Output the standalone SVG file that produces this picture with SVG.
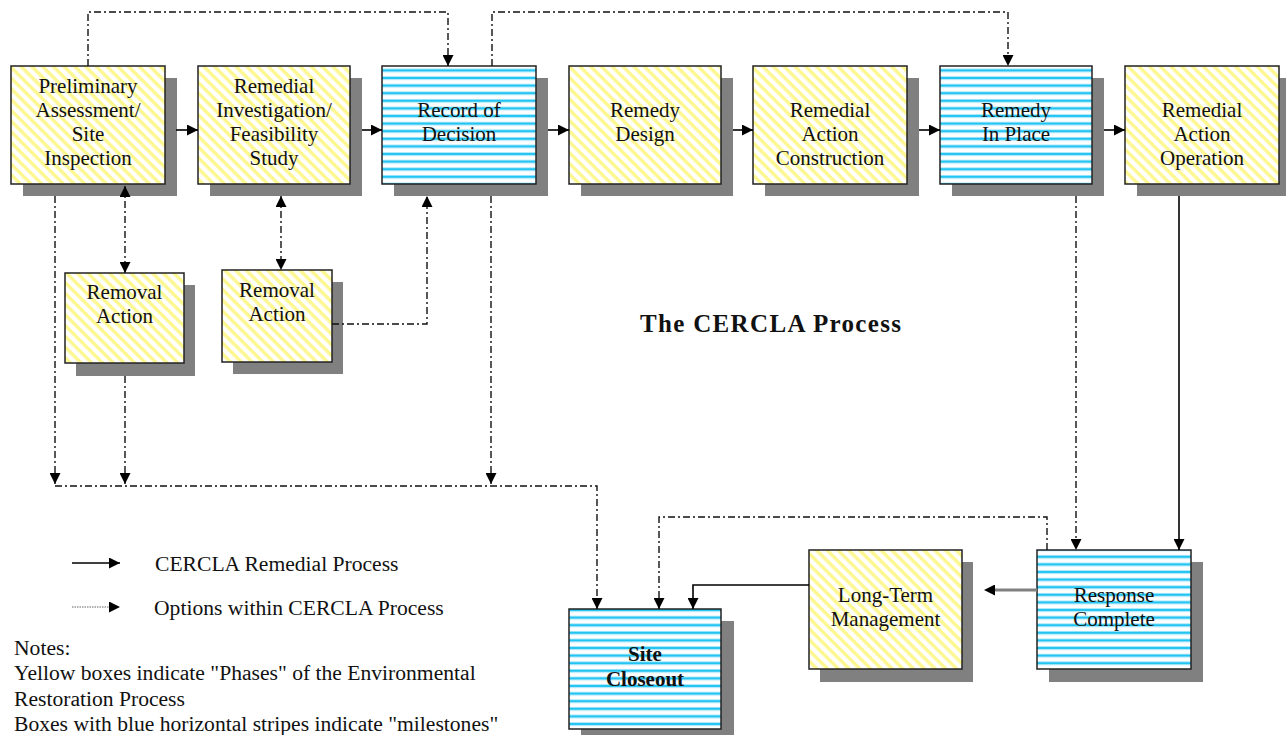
<svg xmlns="http://www.w3.org/2000/svg" width="1286" height="735" viewBox="0 0 1286 735">
<defs>
  <pattern id="yel" patternUnits="userSpaceOnUse" width="7.6" height="7.6" patternTransform="rotate(45)">
    <rect x="0" y="0" width="7.6" height="7.6" fill="#ffffff"/>
    <rect x="0" y="0" width="7.6" height="3.4" fill="#fdf78f"/>
  </pattern>
  <pattern id="blu" patternUnits="userSpaceOnUse" x="0" y="68.5" width="10" height="7.6">
    <rect x="0" y="0" width="10" height="7.6" fill="#ffffff"/>
    <rect x="0" y="0" width="10" height="0.9" fill="#a8e8fb"/>
    <rect x="0" y="0.9" width="10" height="2.2" fill="#24c4f2"/>
    <rect x="0" y="3.1" width="10" height="0.9" fill="#a8e8fb"/>
  </pattern>
  <marker id="ah" viewBox="0 0 10 10" refX="10" refY="5" markerWidth="11" markerHeight="11" markerUnits="userSpaceOnUse" orient="auto-start-reverse">
    <path d="M0,0 L10,5 L0,10 Z" fill="#000"/>
  </marker>
</defs>
<style>
  .shadow { fill: #808080; }
  .ybox { fill: url(#yel); stroke: #222; stroke-width: 1.5; }
  .bbox { fill: url(#blu); stroke: #222; stroke-width: 1.5; }
  .lbl { font-family: "Liberation Serif", "Times New Roman", serif; font-size: 21px; fill: #111; text-anchor: middle; }
  .bold { font-weight: bold; }
  .txt { font-family: "Liberation Serif", "Times New Roman", serif; font-size: 21.6px; fill: #111; }
  .solid { fill: none; stroke: #000; stroke-width: 1.6; }
  .dd { fill: none; stroke: #111; stroke-width: 1.4; stroke-dasharray: 7 3 2 3; }
</style>

<g id="n-pasi">
  <rect class="shadow" x="23" y="78" width="154" height="118"/>
  <rect class="ybox" x="11" y="66" width="154" height="118"/>
  <text class="lbl" x="88" y="93">Preliminary</text>
  <text class="lbl" x="88" y="117">Assessment/</text>
  <text class="lbl" x="88" y="141">Site</text>
  <text class="lbl" x="88" y="165">Inspection</text>
</g>
<g id="n-rifs">
  <rect class="shadow" x="210" y="78" width="152" height="118"/>
  <rect class="ybox" x="198" y="66" width="152" height="118"/>
  <text class="lbl" x="274" y="93">Remedial</text>
  <text class="lbl" x="274" y="117">Investigation/</text>
  <text class="lbl" x="274" y="141">Feasibility</text>
  <text class="lbl" x="274" y="165">Study</text>
</g>
<g id="n-rod">
  <rect class="shadow" x="394" y="78" width="154" height="118"/>
  <rect class="bbox" x="382" y="66" width="154" height="118"/>
  <text class="lbl" x="459" y="117">Record of</text>
  <text class="lbl" x="459" y="141">Decision</text>
</g>
<g id="n-rd">
  <rect class="shadow" x="581" y="78" width="152" height="118"/>
  <rect class="ybox" x="569" y="66" width="152" height="118"/>
  <text class="lbl" x="645" y="117">Remedy</text>
  <text class="lbl" x="645" y="141">Design</text>
</g>
<g id="n-rac">
  <rect class="shadow" x="765" y="78" width="154" height="118"/>
  <rect class="ybox" x="753" y="66" width="154" height="118"/>
  <text class="lbl" x="830" y="117">Remedial</text>
  <text class="lbl" x="830" y="141">Action</text>
  <text class="lbl" x="830" y="165">Construction</text>
</g>
<g id="n-rip">
  <rect class="shadow" x="952" y="78" width="152" height="118"/>
  <rect class="bbox" x="940" y="66" width="152" height="118"/>
  <text class="lbl" x="1016" y="117">Remedy</text>
  <text class="lbl" x="1016" y="141">In Place</text>
</g>
<g id="n-rao">
  <rect class="shadow" x="1137" y="78" width="154" height="118"/>
  <rect class="ybox" x="1125" y="66" width="154" height="118"/>
  <text class="lbl" x="1202" y="117">Remedial</text>
  <text class="lbl" x="1202" y="141">Action</text>
  <text class="lbl" x="1202" y="165">Operation</text>
</g>
<g id="n-ra1">
  <rect class="shadow" x="76" y="285" width="119" height="91"/>
  <rect class="ybox" x="65" y="273" width="119" height="90"/>
  <text class="lbl" x="124.5" y="299">Removal</text>
  <text class="lbl" x="124.5" y="323">Action</text>
</g>
<g id="n-ra2">
  <rect class="shadow" x="233" y="282" width="110" height="92"/>
  <rect class="ybox" x="222" y="270" width="110" height="92"/>
  <text class="lbl" x="277" y="297">Removal</text>
  <text class="lbl" x="277" y="321">Action</text>
</g>
<g id="n-rc">
  <rect class="shadow" x="1049" y="562" width="154" height="120"/>
  <rect class="bbox" x="1037" y="550" width="154" height="119"/>
  <text class="lbl" x="1114" y="602">Response</text>
  <text class="lbl" x="1114" y="626">Complete</text>
</g>
<g id="n-ltm">
  <rect class="shadow" x="820" y="562" width="153" height="120"/>
  <rect class="ybox" x="809" y="550" width="153" height="119"/>
  <text class="lbl" x="885.5" y="602">Long-Term</text>
  <text class="lbl" x="885.5" y="626">Management</text>
</g>
<g id="n-sc">
  <rect class="shadow" x="581" y="621" width="153" height="120"/>
  <rect class="bbox" x="569" y="609" width="152" height="120"/>
  <text class="lbl bold" x="645" y="661">Site</text>
  <text class="lbl bold" x="645" y="686">Closeout</text>
</g>

<g id="connectors">
  <path class="solid" d="M176,130 H198" marker-end="url(#ah)"/>
  <path class="solid" d="M362,130 H382" marker-end="url(#ah)"/>
  <path class="solid" d="M548,130 H569" marker-end="url(#ah)"/>
  <path class="solid" d="M733,130 H753" marker-end="url(#ah)"/>
  <path class="solid" d="M919,130 H940" marker-end="url(#ah)"/>
  <path class="solid" d="M1104,130 H1125" marker-end="url(#ah)"/>
  <path class="solid" d="M1179,196 V550" marker-end="url(#ah)"/>
  <path d="M1037,590 H990" fill="none" stroke="#808080" stroke-width="3"/>
  <path d="M994,590 H984" fill="none" stroke="none" marker-end="url(#ah)"/>
  <path class="solid" d="M809,585 H693 V609" marker-end="url(#ah)"/>

  <path class="dd" d="M88,66 V12 H448 V66" marker-end="url(#ah)"/>
  <path class="dd" d="M492,66 V12 H1008 V66" marker-end="url(#ah)"/>
  <path class="dd" d="M125,186 V273" marker-start="url(#ah)" marker-end="url(#ah)"/>
  <path class="dd" d="M281,196 V270" marker-start="url(#ah)" marker-end="url(#ah)"/>
  <path class="dd" d="M332,324 H427 V196" marker-end="url(#ah)"/>
  <path class="dd" d="M55,196 V484" marker-end="url(#ah)"/>
  <path class="dd" d="M125,376 V484" marker-end="url(#ah)"/>
  <path class="dd" d="M491,196 V484" marker-end="url(#ah)"/>
  <path class="dd" d="M55,486 H597 V609" marker-end="url(#ah)"/>
  <path class="dd" d="M1076,196 V550" marker-end="url(#ah)"/>
  <path class="dd" d="M1047,550 V517 H659 V609" marker-end="url(#ah)"/>
</g>

<g id="legend">
  <path class="solid" d="M72,563 H120" marker-end="url(#ah)"/>
  <path d="M72,607 H112" fill="none" stroke="#999" stroke-width="1.5" stroke-dasharray="1.5 1"/>
  <path d="M110,607 H120" fill="none" stroke="none" marker-end="url(#ah)"/>
  <text class="txt" x="155" y="571">CERCLA Remedial Process</text>
  <text class="txt" x="154" y="615">Options within CERCLA Process</text>
  <text class="txt" x="14" y="655">Notes:</text>
  <text class="txt" x="14" y="680">Yellow boxes indicate "Phases" of the Environmental</text>
  <text class="txt" x="14" y="706">Restoration Process</text>
  <text class="txt" x="14" y="731">Boxes with blue horizontal stripes indicate "milestones"</text>
</g>
<text x="640" y="332" font-family="Liberation Serif, 'Times New Roman', serif" font-size="25" font-weight="bold" fill="#111" textLength="261" lengthAdjust="spacing">The CERCLA Process</text>
</svg>
